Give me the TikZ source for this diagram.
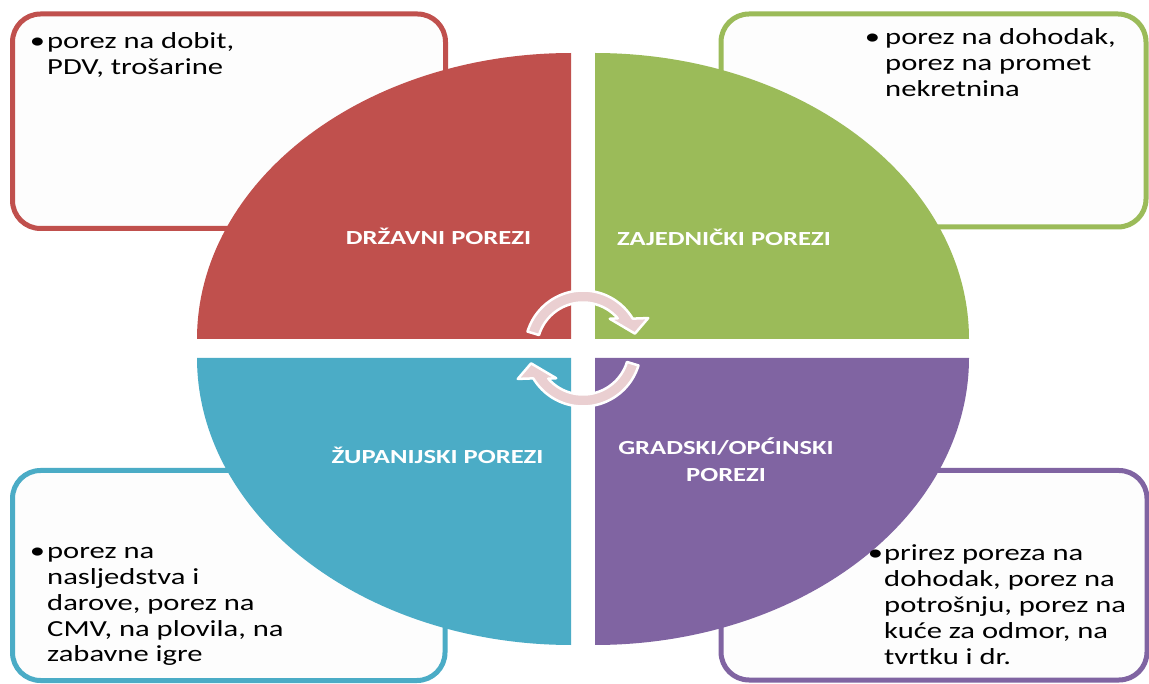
\documentclass[tikz,border=0pt]{standalone}
\usepackage{fontspec}
\newfontfamily\boxfont[FakeStretch=1.33]{Carlito}
\newfontfamily\labfont[FakeStretch=1.33]{Carlito}
\definecolor{cred}{HTML}{C0504D}
\definecolor{cgreen}{HTML}{9BBB59}
\definecolor{cblue}{HTML}{4BACC6}
\definecolor{cpurple}{HTML}{8064A2}
\definecolor{boxfill}{HTML}{FDFDFD}
\definecolor{arrowpink}{RGB}{234,207,209}
\begin{document}
\begin{tikzpicture}[x=1pt,y=-1pt,
  tbox/.style={line width=5pt, rounded corners=28pt, fill=boxfill},
  quad/.style={draw=none},
  lab/.style={anchor=base, inner sep=0pt, text=white, font=\labfont\bfseries\fontsize{20}{28}\selectfont},
  btext/.style={anchor=base west, inner sep=0pt, text=black, font=\boxfont\fontsize{23}{26}\selectfont},
  arr/.style={fill=arrowpink, draw=white, line width=2.5pt, line join=round}]
\useasboundingbox (0,0) rectangle (1149,684);
\fill[white] (0,0) rectangle (1149,684);
% boxes
\draw[tbox, draw=cred] (12.5,14) rectangle (445.5,228.5);
\draw[tbox, draw=cgreen] (721,14) rectangle (1146,227);
\draw[tbox, draw=cblue] (12.5,470.5) rectangle (445,680.5);
\draw[tbox, draw=cpurple] (721,470.5) rectangle (1147,680);
% quadrants
\fill[cred] (571,339) -- plot[domain=180:270,samples=90] ({571+374*cos(\x)},{339+286*sin(\x)}) -- cycle;
\fill[cgreen] (595,339) -- plot[domain=270:360,samples=90] ({595+374*cos(\x)},{339+286*sin(\x)}) -- cycle;
\fill[cblue] (571,358) -- plot[domain=90:180,samples=90] ({571+374*cos(\x)},{358+287*sin(\x)}) -- cycle;
\fill[cpurple] (595,358) -- plot[domain=0:90,samples=90] ({595+374*cos(\x)},{358+287*sin(\x)}) -- cycle;
% labels
\node[lab] (l1) at (438.5,245) {DRŽAVNI POREZI};
\node[lab] (l2) at (724,246) {ZAJEDNIČKI POREZI};
\node[lab] (l3) at (437.5,464) {ŽUPANIJSKI POREZI};
\node[lab] (l4) at (726,454) {\begin{tabular}[t]{@{}c@{}}GRADSKI/OPĆINSKI\\POREZI\end{tabular}};
% box texts
\node[btext] (t1) at (47,49) {\begin{tabular}[t]{@{}l@{}}\llap{•\hspace{2pt}}porez na dobit,\\PDV, trošarine\end{tabular}};
\node[btext] (t2) at (885,45) {\begin{tabular}[t]{@{}l@{}}\llap{•\hspace{5pt}}porez na dohodak,\\porez na promet\\nekretnina\end{tabular}};
\node[btext] (t3) at (47,558) {\begin{tabular}[t]{@{}l@{}}\llap{•\hspace{2pt}}porez na\\nasljedstva i\\darove, porez na\\CMV, na plovila, na\\zabavne igre\end{tabular}};
\node[btext] (t4) at (884,560) {\begin{tabular}[t]{@{}l@{}}\llap{•\hspace{1pt}}prirez poreza na\\dohodak, porez na\\potrošnju, porez na\\kuće za odmor, na\\tvrtku i dr.\end{tabular}};
% circular arrows
\filldraw[arr] plot[domain=197:329,samples=50] ({583+58*cos(\x)},{348.5+58*sin(\x)})
  -- ({583+72*cos(335)},{348.5+72*sin(335)})
  -- ({583+54*cos(344)},{348.5+54*sin(344)})
  -- ({583+40*cos(312)},{348.5+40*sin(312)})
  -- plot[domain=319:197,samples=50] ({583+46*cos(\x)},{348.5+46*sin(\x)})
  -- cycle;
\filldraw[arr] plot[domain=17:149,samples=50] ({583+58*cos(\x)},{348.5+58*sin(\x)})
  -- ({583+72*cos(155)},{348.5+72*sin(155)})
  -- ({583+54*cos(164)},{348.5+54*sin(164)})
  -- ({583+40*cos(132)},{348.5+40*sin(132)})
  -- plot[domain=139:17,samples=50] ({583+46*cos(\x)},{348.5+46*sin(\x)})
  -- cycle;
\end{tikzpicture}
\end{document}
